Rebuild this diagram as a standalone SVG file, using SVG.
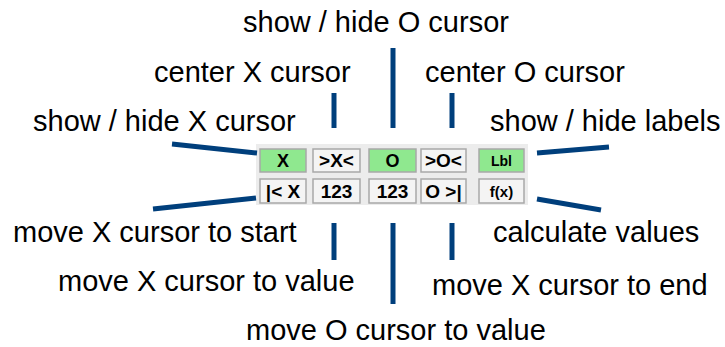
<svg xmlns="http://www.w3.org/2000/svg" width="725" height="347" viewBox="0 0 725 347">
<style>
.lbl{font-family:"Liberation Sans",Arial,sans-serif;font-size:29px;fill:#000}
.btn{fill:#f4f4f4;stroke:#a8a8a8;stroke-width:1.5}
.on{fill:#8fe88f}
.bt{font-family:"Liberation Sans",Arial,sans-serif;font-weight:bold;fill:#000;text-anchor:middle}
.ln{stroke:#003f7c;stroke-width:5;fill:none}
</style>
<rect width="725" height="347" fill="#fff"/>
<g id="panel">
<rect x="256" y="144" width="272" height="61" fill="#ececec"/>
</g>
<g id="btn-x"><rect class="btn on" x="260" y="149" width="46" height="23"/><text class="bt" x="283" y="167" font-size="18">X</text></g>
<g id="btn-cx"><rect class="btn" x="313" y="149" width="47" height="23"/><text class="bt" x="336.5" y="167" font-size="19">&gt;X&lt;</text></g>
<g id="btn-o"><rect class="btn on" x="369" y="149" width="47" height="23"/><text class="bt" x="392.5" y="167" font-size="18">O</text></g>
<g id="btn-co"><rect class="btn" x="421" y="149" width="45" height="23"/><text class="bt" x="443.5" y="167" font-size="19">&gt;O&lt;</text></g>
<g id="btn-lbl"><rect class="btn on" x="479" y="149" width="45" height="23"/><text class="bt" x="501.5" y="166" font-size="14">Lbl</text></g>
<g id="btn-xs"><rect class="btn" x="260" y="179" width="46" height="24"/><text class="bt" x="283" y="198" font-size="19">|&lt; X</text></g>
<g id="btn-xv"><rect class="btn" x="313" y="179" width="47" height="24"/><text class="bt" x="336.5" y="198" font-size="19">123</text></g>
<g id="btn-ov"><rect class="btn" x="369" y="179" width="47" height="24"/><text class="bt" x="392.5" y="198" font-size="19">123</text></g>
<g id="btn-xe"><rect class="btn" x="421" y="179" width="45" height="24"/><text class="bt" x="443.5" y="198" font-size="19">O &gt;|</text></g>
<g id="btn-fx"><rect class="btn" x="479" y="179" width="45" height="24"/><text class="bt" x="501.5" y="197" font-size="15">f(x)</text></g>
<g id="connectors">
<line class="ln" x1="172" y1="144" x2="257" y2="153"/>
<line class="ln" x1="153" y1="209" x2="256" y2="198"/>
<line class="ln" x1="537" y1="153" x2="609" y2="147"/>
<line class="ln" x1="537" y1="199" x2="601" y2="210"/>
<line class="ln" x1="334" y1="93" x2="334" y2="128"/>
<line class="ln" x1="393" y1="48" x2="393" y2="128"/>
<line class="ln" x1="452" y1="93" x2="452" y2="128"/>
<line class="ln" x1="334" y1="223" x2="334" y2="260"/>
<line class="ln" x1="393" y1="223" x2="393" y2="304"/>
<line class="ln" x1="452" y1="223" x2="452" y2="260"/>
</g>
<g id="labels">
<text class="lbl" x="243" y="32" font-size="30">show / hide O cursor</text>
<text class="lbl" x="154" y="82">center X cursor</text>
<text class="lbl" x="425" y="82">center O cursor</text>
<text class="lbl" x="33" y="131">show / hide X cursor</text>
<text class="lbl" x="490" y="131">show / hide labels</text>
<text class="lbl" x="13" y="242">move X cursor to start</text>
<text class="lbl" x="493" y="242">calculate values</text>
<text class="lbl" x="58" y="291">move X cursor to value</text>
<text class="lbl" x="432" y="295">move X cursor to end</text>
<text class="lbl" x="246" y="340">move O cursor to value</text>
</g>
</svg>
